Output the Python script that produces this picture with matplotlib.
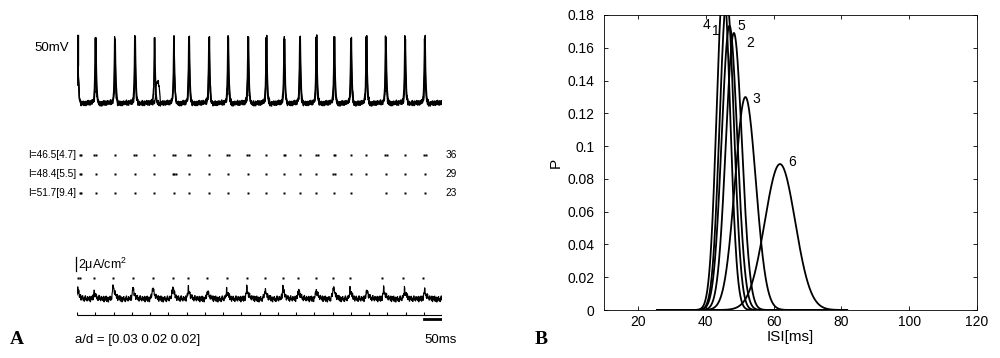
import matplotlib
matplotlib.use('Agg')
import matplotlib.pyplot as plt
import numpy as np

plt.rcParams['font.family'] = ['Liberation Sans', 'DejaVu Sans']
plt.rcParams['mathtext.default'] = 'regular'

# ---- panel A data (times in ms) ----
spk_a = [2, 51, 104, 159, 212, 266, 307, 362, 414, 469, 519, 568, 611, 656, 705, 751, 793, 846, 899, 953]
spk_b = [2, 50, 105, 158, 213, 265, 308, 361, 415, 468, 520, 567, 612, 657, 704, 752, 794, 847, 898, 954]
spk_c = [2, 52, 103, 160, 266, 306, 363, 413, 470, 518, 569, 610, 655, 706, 750, 792, 845, 900, 952]
failed_c = 221          # subthreshold bump instead of a spike
failed_amp = 37         # mV

row_labels = ['I=46.5[4.7]', 'I=48.4[5.5]', 'I=51.7[9.4]']
row_counts = ['36', '29', '23']
row1 = [7, 10, 47, 52, 104, 157, 162, 212, 264, 269, 305, 310, 362, 412, 417, 467, 472, 519,
        566, 571, 611, 654, 659, 703, 708, 751, 793, 844, 849, 899, 951, 956]
row2 = [7, 10, 51, 104, 159, 212, 262, 266, 270, 307, 362, 414, 469, 519, 568, 611, 656, 702, 707,
        751, 793, 846, 899, 953]
row3 = [7, 10, 51, 104, 159, 212, 266, 307, 362, 414, 469, 519, 568, 611, 656, 705, 751, 846, 899, 953]

cur_dots = [2, 7, 47, 99, 153, 208, 263, 304, 356, 411, 466, 515, 564, 605, 655, 701, 748, 836, 893, 948]
bump_t = [2, 47, 99, 153, 207, 262, 305, 357, 410, 465, 515, 564, 607, 655, 702, 748, 794, 840, 897, 952]
bump_h = [2.5, 1.8, 3.5, 2.9, 3.1, 3.3, 2.7, 2.1, 2.25, 2.9, 2.4, 2.9, 2.5, 2.5, 3.25, 2.5, 2.4, 2.7, 2.5, 2.4]

# hand-typed baseline jitter
wig_v = [0.0, 2.5, -1.6, 3.6, -2.9, 0.9, 2.0, -3.8, 1.4, -0.7, 3.1, -2.2, 0.5, -3.2, 1.8, 4.0,
         -1.3, 0.7, -2.5, 2.7, -0.4, 1.6, -1.8, 3.3, -3.5, 0.2, 2.2, -1.1, 1.2]
wig_i = [0.0, 0.55, -0.3, 0.7, -0.6, 0.15, 0.45, -0.75, 0.3, -0.15, 0.6, -0.45, 0.1, -0.65, 0.4,
         0.75, -0.25, 0.15, -0.5, 0.6, -0.1, 0.3, -0.4, 0.65, -0.7]

# ---- panel B data ----
isi_names = ['4', '1', '5', '2', '3', '6']
isi_mean = [45.2, 46.2, 47.0, 48.3, 51.7, 61.9]
isi_sd = [2.0, 2.1, 2.3, 2.36, 3.07, 4.48]
lab_x = [40.2, 42.9, 50.4, 53.1, 54.8, 65.5]
lab_y = [0.174, 0.170, 0.173, 0.163, 0.129, 0.090]

t = np.arange(0, 1000.5, 0.5)


def vtrace(spikes, shift):
    v = -70 + np.resize(np.repeat(np.roll(wig_v, shift), 3), t.size)
    for s in spikes:
        d = t - s
        v += 116 * np.where(d < 0, np.exp(d / 1.4), np.exp(-d / 2.2))
        v += np.where(d > 0, -6 * np.exp(-d / 12) * (1 - np.exp(-d / 2.0)), 0)
        v += np.where(d < 0, 6 * np.exp(d / 5), 0)
    return v


def px(x0, y0, x1, y1):
    return [x0 / 1000, 1 - y1 / 358, (x1 - x0) / 1000, (y1 - y0) / 358]


fig = plt.figure(figsize=(10, 3.58), dpi=100)

# voltage traces
ax_v = fig.add_axes(px(77, 30, 442, 112))
vc = vtrace(spk_c, 9)
d = t - failed_c
vc += failed_amp * np.exp(-(d / 6.0) ** 4)
for v in [vtrace(spk_a, 0), vtrace(spk_b, 17) + 1.5, vc]:
    ax_v.plot(t, v, color='k', lw=0.9)
ax_v.plot([0, 0], [0, 50], color='k', lw=2.4)
ax_v.set_xlim(0, 1000)
ax_v.set_ylim(-86, 60)
ax_v.axis('off')
fig.text(0.069, 1 - 48 / 358, '50mV', ha='right', va='center', fontsize=9.5)

# raster
ax_r = fig.add_axes(px(77, 145.5, 442, 202.5))
for i, row in enumerate([row1, row2, row3]):
    ax_r.plot(row, [i + 1] * len(row), 's', ms=2.1, color='k', mec='none')
    ax_r.text(-3, i + 1, row_labels[i], ha='right', va='center', fontsize=7.3)
    ax_r.text(1010, i + 1, row_counts[i], ha='left', va='center', fontsize=7.3)
ax_r.set_xlim(0, 1000)
ax_r.set_ylim(3.5, 0.5)
ax_r.axis('off')

# current trace
ax_i = fig.add_axes(px(77, 250, 442, 325))
cur = np.resize(np.repeat(wig_i, 3), t.size)
for s, h in zip(bump_t, bump_h):
    d = t - s
    cur += h * np.where(d < 0, np.exp(d / 2.2), np.exp(-d / 5.5))
ax_i.plot(t, cur, color='k', lw=0.8)
ax_i.plot(cur_dots, [5.25] * len(cur_dots), 's', ms=2.1, color='k', mec='none')
ticks = np.arange(0, 1001, 50)
ax_i.hlines(-4.0, 0, 1000, color='k', lw=0.8)
ax_i.vlines(ticks, -4.0, -3.25, color='k', lw=0.8)
ax_i.plot([950, 1000], [-5.0, -5.0], color='k', lw=2)
ax_i.plot([-2, -2], [7.0, 10.5], color='k', lw=0.9, clip_on=False)
ax_i.text(4, 8.6, '2μA/cm$^{2}$', ha='left', va='center', fontsize=9)
ax_i.set_xlim(0, 1000)
ax_i.set_ylim(-6.5, 12.25)
ax_i.axis('off')

fig.text(0.075, 1 - 340 / 358, 'a/d = [0.03 0.02 0.02]', ha='left', va='center', fontsize=9.5)
fig.text(0.424, 1 - 340 / 358, '50ms', ha='left', va='center', fontsize=9.5)
fig.text(0.0165, 1 - 340 / 358, 'A', ha='center', va='center', fontsize=14,
         fontweight='bold', family='Liberation Serif')
fig.text(0.5415, 1 - 340 / 358, 'B', ha='center', va='center', fontsize=14,
         fontweight='bold', family='Liberation Serif')

# ---- panel B ----
ax = fig.add_axes(px(604, 15, 977, 310))
x = np.linspace(25.6, 81.7, 600)
for m, s in zip(isi_mean, isi_sd):
    ax.plot(x, np.exp(-0.5 * ((x - m) / s) ** 2) / (s * np.sqrt(2 * np.pi)), color='k', lw=1.3)
for n, lx, ly in zip(isi_names, lab_x, lab_y):
    ax.text(lx, ly, n, ha='center', va='center', fontsize=10)
ax.set_xlim(10, 120)
ax.set_ylim(0, 0.18)
ax.set_xticks(np.arange(20, 121, 20))
yt = np.arange(0, 0.181, 0.02)
ax.set_yticks(yt)
ax.set_yticklabels([f'{v:g}' for v in np.round(yt, 2)])
ax.tick_params(direction='in', top=True, right=True, length=3, labelsize=10, width=0.6)
ax.tick_params(axis='y', pad=7)
for sp in ax.spines.values():
    sp.set_linewidth(0.6)
ax.set_xlabel('ISI[ms]', fontsize=11, labelpad=1)
ax.set_ylabel('P', fontsize=11, labelpad=3)

fig.savefig('out.png', dpi=100)
